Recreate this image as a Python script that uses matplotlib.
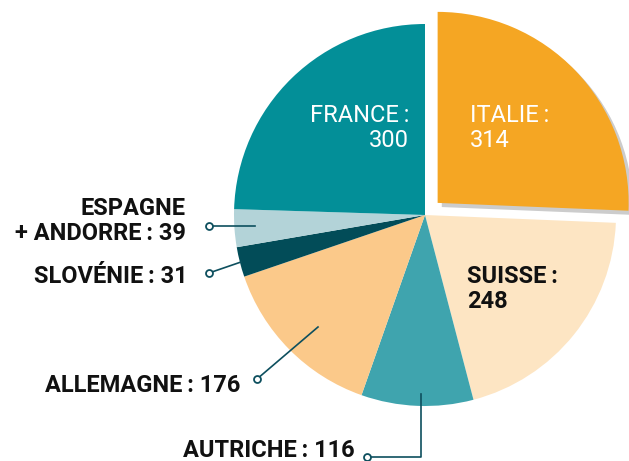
import matplotlib.pyplot as plt
import matplotlib.patheffects as pe

# pays et nombre (sens horaire à partir de midi)
pays = ['ITALIE', 'SUISSE', 'AUTRICHE', 'ALLEMAGNE', 'SLOVÉNIE', 'ESPAGNE + ANDORRE', 'FRANCE']
valeurs = [314, 248, 116, 176, 31, 39, 300]
couleurs = ['#f5a623', '#fde5c3', '#3fa4ae', '#fbc98a', '#024c58', '#b3d3d8', '#038f98']
ecart = [17.5, 0, 0, 0, 0, 0, 0]

plt.rcParams['font.family'] = ['Roboto', 'DejaVu Sans']
H = 461

fig = plt.figure(figsize=(6.29, 4.61), dpi=100)
ax = fig.add_axes([0, 0, 1, 1])

wedges, _ = ax.pie(valeurs, colors=couleurs, explode=ecart, startangle=90,
                   counterclock=False, radius=191, center=(425, H - 215),
                   wedgeprops=dict(linewidth=0), frame=True)
ax.set_xlim(0, 629)
ax.set_ylim(0, H)
ax.axis('off')
wedges[0].set_path_effects([pe.SimplePatchShadow(offset=(3, -3), alpha=0.2, shadow_rgbFace='k'),
                            pe.Normal()])

fs = 17
tc = '#111111'
lc = '#0d4f5e'

# étiquettes dans les parts
ax.text(409, H - 122, 'FRANCE\u2009:', color='white', fontsize=fs, ha='right', va='baseline')
ax.text(409, H - 147, str(valeurs[6]), color='white', fontsize=fs, ha='right', va='baseline')
ax.text(470, H - 122, 'ITALIE\u2009:', color='white', fontsize=fs, ha='left', va='baseline')
ax.text(470, H - 147, str(valeurs[0]), color='white', fontsize=fs, ha='left', va='baseline')
ax.text(467, H - 283, 'SUISSE\u2009:', color=tc, fontsize=fs, ha='left', va='baseline', fontweight='bold')
ax.text(467, H - 308, str(valeurs[1]), color=tc, fontsize=fs, ha='left', va='baseline', fontweight='bold')

# étiquettes extérieures avec traits
ax.text(186, H - 215, 'ESPAGNE', color=tc, fontsize=fs, ha='right', va='baseline', fontweight='bold')
ax.text(186, H - 240, '+ ANDORRE\u2009: %d' % valeurs[5], color=tc, fontsize=fs, ha='right',
        va='baseline', fontweight='bold')
ax.text(188, H - 283, 'SLOVÉNIE\u2009: %d' % valeurs[4], color=tc, fontsize=fs, ha='right',
        va='baseline', fontweight='bold')
ax.text(240, H - 392, 'ALLEMAGNE\u2009: %d' % valeurs[3], color=tc, fontsize=fs, ha='right',
        va='baseline', fontweight='bold')
ax.text(355, H - 457, 'AUTRICHE\u2009: %d' % valeurs[2], color=tc, fontsize=fs, ha='right',
        va='baseline', fontweight='bold')

traits = [
    ([209, 255], [226, 226]),
    ([209, 241], [273, 262]),
    ([257, 318], [379, 327]),
    ([367, 421, 421], [457, 457, 394]),
]
for xs, ys in traits:
    ax.plot(xs, [H - y for y in ys], color=lc, lw=1.2, zorder=5)
    ax.plot(xs[0], H - ys[0], 'o', ms=5, mfc='white', mec=lc, mew=1.3, zorder=6)

fig.savefig('out.png', dpi=100)
